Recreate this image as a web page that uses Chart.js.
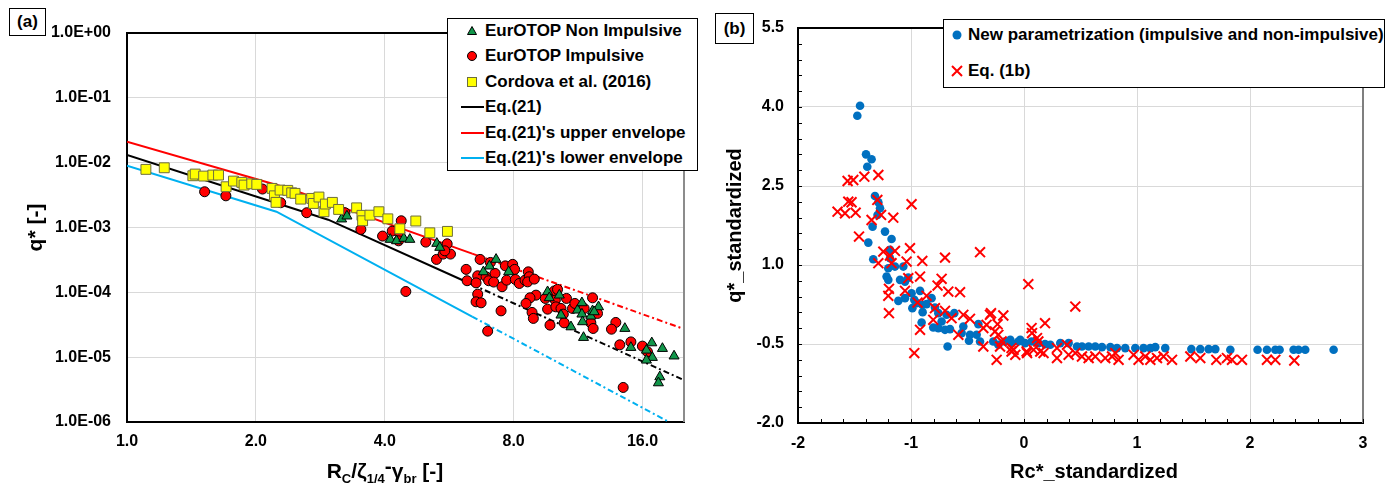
<!DOCTYPE html>
<html>
<head>
<meta charset="utf-8">
<script src="https://cdn.jsdelivr.net/npm/chart.js@4.4.1/dist/chart.umd.min.js"></script>
<style>
body{margin:0;background:#fff;width:1394px;height:488px;position:relative;overflow:hidden;
  font-family:Arial,'Liberation Sans',sans-serif;font-weight:bold;color:#000}
canvas{position:absolute;top:0}
.tag{position:absolute;border:1.5px solid #000;box-sizing:border-box;font-size:17px;
  display:flex;align-items:center;justify-content:center;background:#fff}
.legend{position:absolute;border:1px solid #000;background:#fff;box-sizing:border-box;font-size:17px}
.row{position:absolute;height:20px;display:flex;align-items:center;white-space:nowrap}
.axTitle{position:absolute;line-height:1;white-space:nowrap;transform:translateX(-50%)}
.sb{font-size:13px;position:relative;top:5px}
.sp{position:relative;top:-5px}
</style>
</head>
<body>
<canvas id="chartA" width="700" height="488" style="left:0"></canvas>
<canvas id="chartB" width="694" height="488" style="left:700px"></canvas>

<div class="tag" style="left:9px;top:8px;width:37px;height:28px">(a)</div>
<div class="tag" style="left:715px;top:13px;width:39px;height:31px">(b)</div>

<div class="legend" style="left:447px;top:18px;width:251px;height:153px">
  <div class="row" style="left:12px;top:2px"><svg width="24" height="20"><polygon points="12,5.5 16.5,13.5 7.5,13.5" fill="#11964a" stroke="#000"/></svg><span style="margin-left:1px">EurOTOP Non Impulsive</span></div>
  <div class="row" style="left:12px;top:27px"><svg width="24" height="20"><circle cx="12" cy="10" r="4.5" fill="#ff0000" stroke="#000"/></svg><span style="margin-left:1px">EurOTOP Impulsive</span></div>
  <div class="row" style="left:12px;top:52.7px"><svg width="24" height="20"><rect x="7.5" y="5.5" width="9" height="9" fill="#ffff00" stroke="#6e6e3c"/></svg><span style="margin-left:1px">Cordova et al. (2016)</span></div>
  <div class="row" style="left:12px;top:78.3px"><svg width="24" height="20"><line x1="1" y1="10" x2="24" y2="10" stroke="#000" stroke-width="2"/></svg><span style="margin-left:1px">Eq.(21)</span></div>
  <div class="row" style="left:12px;top:103.7px"><svg width="24" height="20"><line x1="1" y1="10" x2="24" y2="10" stroke="#ff0000" stroke-width="2"/></svg><span style="margin-left:1px">Eq.(21)'s upper envelope</span></div>
  <div class="row" style="left:12px;top:128.7px"><svg width="24" height="20"><line x1="1" y1="10" x2="24" y2="10" stroke="#00b0f0" stroke-width="2"/></svg><span style="margin-left:1px">Eq.(21)'s lower envelope</span></div>
</div>

<div class="legend" style="left:943px;top:19px;width:442px;height:69px">
  <div class="row" style="left:3px;top:5px"><svg width="20" height="20"><circle cx="10" cy="10" r="4.5" fill="#0070c0"/></svg><span style="margin-left:1px">New parametrization (impulsive and non-impulsive)</span></div>
  <div class="row" style="left:3px;top:41px"><svg width="20" height="20"><path d="M5,5 L15,15 M15,5 L5,15" stroke="#ff0000" stroke-width="2"/></svg><span style="margin-left:1px">Eq. (1b)</span></div>
</div>

<div class="axTitle" style="left:385px;top:460px;font-size:21px">R<span class="sb">C</span>/ζ<span class="sb">1/4</span><span class="sp">-</span>γ<span class="sb">br</span> [-]</div>
<div class="axTitle" style="left:1094px;top:461px;font-size:20px">Rc*_standardized</div>

<script>
// ---------- panel (a) data ----------
const xTicksA = [1, 2, 4, 8, 16];
const yTicksA = [1e-6, 1e-5, 1e-4, 1e-3, 1e-2, 1e-1, 1];

// EurOTOP non impulsive (triangles)
const nonImpX = [3.172,3.264,4.120,4.262,4.432,4.577,5.292,5.377,6.799,7.022,
  7.279,7.788,9.603,9.691,10.23,10.32,10.89,11.28,11.55,11.55,
  11.59,11.65,12.12,12.23,12.63,14.55,15.03,16.34,16.82,16.87,
  16.34,17.81,18.96,17.56,17.43,12.34];
const nonImpQ = [1.35e-3,1.50e-3,6.55e-4,6.23e-4,6.79e-4,6.55e-4,5.68e-4,4.93e-4,2.07e-4,2.54e-4,
  3.22e-4,2.07e-4,1.02e-4,8.23e-5,9.05e-5,4.45e-5,2.93e-5,5.31e-5,6.89e-5,4.61e-5,
  3.51e-5,2.01e-5,4.29e-5,5.18e-5,5.97e-5,2.77e-5,1.41e-5,1.28e-5,1.66e-5,9.89e-6,
  8.99e-6,1.36e-5,1.04e-5,4.97e-6,4.01e-6,5.00e-5];

// EurOTOP impulsive (circles)
const impX = [1.518,1.702,2.072,2.286,2.629,3.229,3.518,3.953,4.164,4.371,
  4.338,4.308,4.988,5.283,5.476,5.595,5.696,5.524,4.480,6.680,
  6.196,7.060,6.594,6.229,6.537,6.898,6.995,7.239,7.185,7.517,
  7.651,7.705,7.958,8.043,8.073,8.248,8.504,8.657,8.703,8.625,
  8.941,6.594,6.537,6.716,7.477,6.958,9.023,8.736,8.550,8.833,
  8.895,9.728,9.485,9.603,9.864,9.954,10.13,10.01,10.04,10.32,
  10.45,10.50,10.63,10.98,11.12,11.69,12.12,12.27,12.23,12.56,
  13.86,13.54,14.16,15.03,15.99,16.43,14.42];
const impQ = [3.56e-3,3.08e-3,3.92e-3,2.41e-3,1.69e-3,1.69e-3,9.35e-4,7.37e-4,8.80e-4,1.27e-3,
  8.28e-4,6.23e-4,5.95e-4,3.22e-4,3.89e-4,5.60e-4,3.89e-4,4.37e-4,1.03e-4,3.22e-4,
  2.26e-4,2.89e-4,1.80e-4,1.51e-4,1.40e-4,1.74e-4,1.51e-4,1.96e-4,1.44e-4,1.22e-4,
  2.56e-4,1.54e-4,2.70e-4,2.26e-4,1.58e-4,1.37e-4,1.54e-4,2.07e-4,1.74e-4,1.45e-4,
  1.60e-4,9.38e-5,7.14e-5,6.89e-5,5.18e-5,2.52e-5,9.05e-5,8.23e-5,6.74e-5,4.90e-5,
  3.96e-5,3.12e-5,8.05e-5,5.50e-5,9.61e-5,1.05e-4,1.11e-4,7.58e-5,5.97e-5,5.64e-5,
  4.61e-5,3.38e-5,8.05e-5,5.64e-5,6.74e-5,5.64e-5,3.38e-5,2.77e-5,8.23e-5,4.73e-5,
  3.43e-5,2.70e-5,1.55e-5,1.72e-5,1.48e-5,1.21e-5,3.41e-6];

// Cordova et al. (2016) (squares)
const cordX = [1.107,1.222,1.425,1.443,1.510,1.587,1.636,1.704,1.773,1.854,
  1.877,1.956,2.010,2.182,2.210,2.229,2.278,2.374,2.425,2.469,
  2.545,2.700,2.725,2.808,2.885,2.906,3.018,3.121,3.438,3.538,
  3.551,3.693,3.876,4.067,4.338,4.727,5.097,5.604];
const cordQ = [7.88e-3,8.34e-3,6.28e-3,6.67e-3,6.21e-3,6.44e-3,6.44e-3,4.25e-3,5.20e-3,4.97e-3,
  4.51e-3,4.72e-3,4.62e-3,4.01e-3,3.08e-3,2.44e-3,3.78e-3,3.74e-3,3.43e-3,3.36e-3,
  2.74e-3,2.81e-3,2.35e-3,2.95e-3,1.75e-3,2.30e-3,2.44e-3,1.90e-3,2.01e-3,1.54e-3,
  1.27e-3,1.55e-3,1.75e-3,1.36e-3,9.55e-4,1.26e-3,8.28e-4,8.71e-4];

// Eq.(21) and its envelopes (vertices, dash-dot beyond the 3rd point)
const eq21X = [1, 2.95, 6.4, 20];
const eq21Q = [0.0131, 0.00132, 1.32e-4, 4.42e-6];
const upperX = [1, 2.378, 6.4, 20];
const upperQ = [0.0210, 0.00404, 3.96e-4, 2.72e-5];
const lowerX = [1, 2.234, 6.4, 18.45];
const lowerQ = [0.00895, 0.00175, 4.23e-5, 1e-6];

// ---------- panel (b) data ----------
const newParX = [-1.451,-1.475,-1.398,-1.349,-1.387,-1.319,-1.289,-1.274,-1.296,-1.340,
  -1.230,-1.172,-1.378,-1.186,-1.334,-1.186,-1.201,-1.142,-1.068,-1.216,
  -1.201,-1.097,-1.053,-1.024,-1.112,-1.053,-0.995,-0.971,-0.920,-0.950,
  -0.988,-0.900,-0.862,-0.818,-0.897,-0.906,-0.788,-0.758,-0.729,-0.803,
  -0.758,-0.699,-0.655,-0.685,-0.617,-0.676,-0.537,-0.552,-0.478,-0.419,
  -0.404,-0.487,-0.389,-0.272,-0.227,-0.168,-0.110,-0.050,0.009,0.067,
  0.127,0.186,-0.121,-0.033,0.233,0.321,0.395,0.469,0.513,0.572,
  0.631,0.690,0.764,0.823,0.896,0.985,1.058,1.118,1.162,1.250,
  1.481,1.560,1.634,1.693,1.826,2.067,2.150,2.224,2.262,2.386,
  2.430,2.489,2.740];
const newParY = [4.023,3.833,3.101,3.007,2.866,2.311,2.191,2.077,1.950,1.728,
  1.634,1.495,1.425,1.287,1.110,1.129,0.939,0.970,0.970,0.780,
  0.718,0.718,0.685,0.761,0.319,0.371,0.465,0.338,0.509,0.276,
  0.181,0.244,0.257,0.371,0.105,-0.092,0.192,0.086,-0.073,-0.187,
  -0.198,-0.231,-0.217,0.054,0.086,-0.547,-0.168,-0.293,-0.325,-0.325,
  -0.123,-0.439,-0.452,-0.452,-0.515,-0.452,-0.483,-0.452,-0.483,-0.452,
  -0.483,-0.502,-0.420,-0.420,-0.515,-0.483,-0.483,-0.547,-0.547,-0.547,
  -0.547,-0.559,-0.559,-0.578,-0.578,-0.578,-0.578,-0.578,-0.559,-0.578,
  -0.597,-0.597,-0.597,-0.597,-0.610,-0.610,-0.610,-0.610,-0.610,-0.610,
  -0.610,-0.610,-0.610];

const eq1bX = [-1.561,-1.511,-1.413,-1.289,-1.555,-1.526,-1.650,-1.584,-1.490,-1.460,
  -1.298,-1.349,-1.265,-1.157,-0.995,-1.245,-1.142,-1.186,-1.289,-1.172,
  -1.009,-1.039,-0.900,-0.699,-0.389,-0.920,-1.024,-0.729,-0.765,-1.195,
  -1.201,-1.053,-0.670,-0.566,-0.942,-0.862,-1.195,-0.920,-0.788,-0.699,
  -0.803,-0.641,-0.537,-0.478,-0.581,-0.971,-0.360,-0.331,-0.292,-0.234,
  -0.183,-0.227,-0.212,-0.242,-0.110,0.038,0.067,0.127,0.186,0.115,
  0.454,-0.092,-0.077,0.027,0.085,0.144,0.173,0.292,0.381,0.292,
  0.395,0.454,0.513,0.572,0.631,0.719,0.779,0.808,0.837,0.970,
  1.014,1.073,1.118,1.177,1.235,1.310,1.472,1.560,1.702,1.796,
  1.841,1.929,2.150,2.224,2.392,0.071,-0.360,-0.301,-0.257,-0.198,
  -0.110,0.023];
const eq1bY = [2.595,2.614,2.677,2.709,2.203,2.191,2.013,1.983,1.994,1.539,
  2.235,1.855,1.950,1.899,2.153,1.254,1.268,1.178,1.034,1.034,
  1.319,1.065,1.078,1.140,1.243,0.780,0.750,0.737,0.610,0.547,
  0.414,0.509,0.496,0.484,0.287,0.414,0.086,-0.231,0.181,0.130,
  -0.041,-0.009,0.054,-0.022,-0.325,-0.672,-0.547,-0.136,0.086,-0.123,
  0.041,-0.325,-0.547,-0.800,-0.642,0.636,-0.198,-0.452,-0.104,-0.388,
  0.211,-0.610,-0.705,-0.672,-0.610,-0.642,-0.672,-0.578,-0.515,-0.767,
  -0.705,-0.672,-0.737,-0.767,-0.737,-0.767,-0.737,-0.672,-0.800,-0.705,
  -0.800,-0.737,-0.800,-0.767,-0.737,-0.800,-0.737,-0.767,-0.800,-0.767,
  -0.800,-0.800,-0.800,-0.800,-0.813,-0.293,-0.198,0.054,-0.263,-0.452,
  -0.578,-0.642];

// ---------- helpers ----------
const pts = (xs, ys) => xs.map((x, i) => ({x: x, y: ys[i]}));
const FONT = "Arial, 'Liberation Sans', sans-serif";
const tickFont = {family: FONT, size: 16, weight: 'bold'};
const dashAfter = ctx => ctx.p0DataIndex >= 2 ? [6, 3, 2, 3] : undefined;

const sciLabel = v => {
  const e = Math.round(Math.log10(v));
  return '1.0E' + (e < 0 ? '-' : '+') + String(Math.abs(e)).padStart(2, '0');
};

// top and right edge of the plot area
const frame = {
  id: 'frame',
  afterDraw(chart, args, opts) {
    const {ctx, chartArea: a} = chart;
    ctx.save();
    ctx.lineWidth = 2;
    ctx.strokeStyle = '#000';
    ctx.beginPath(); ctx.moveTo(a.left, a.top); ctx.lineTo(a.right, a.top); ctx.stroke();
    ctx.strokeStyle = opts.right || '#8c8c8c';
    ctx.beginPath(); ctx.moveTo(a.right, a.top); ctx.lineTo(a.right, a.bottom); ctx.stroke();
    ctx.restore();
  }
};

// small tick marks pointing inward (panel b)
const innerTicks = {
  id: 'innerTicks',
  afterDraw(chart) {
    const {ctx, chartArea: a, scales} = chart;
    ctx.save();
    ctx.strokeStyle = '#000';
    ctx.lineWidth = 1;
    ctx.beginPath();
    scales.x.ticks.forEach(t => {
      const p = Math.round(scales.x.getPixelForValue(t.value)) + 0.5;
      ctx.moveTo(p, a.bottom); ctx.lineTo(p, a.bottom - 4);
    });
    scales.y.ticks.forEach(t => {
      const p = Math.round(scales.y.getPixelForValue(t.value)) + 0.5;
      ctx.moveTo(a.left, p); ctx.lineTo(a.left + 4, p);
    });
    ctx.stroke();
    ctx.restore();
  }
};

// ---------- chart (a) ----------
new Chart(document.getElementById('chartA'), {
  type: 'scatter',
  data: {
    datasets: [
      {label: 'EurOTOP Non Impulsive', data: pts(nonImpX, nonImpQ), pointStyle: 'triangle', pointRadius: 5.8,
        backgroundColor: '#11964a', borderColor: '#000', borderWidth: 1, order: 2},
      {label: 'EurOTOP Impulsive', data: pts(impX, impQ), pointStyle: 'circle', pointRadius: 5,
        backgroundColor: '#ff0000', borderColor: '#000', borderWidth: 1, order: 3},
      {label: 'Cordova et al. (2016)', data: pts(cordX, cordQ), pointStyle: 'rect', pointRadius: 7,
        backgroundColor: '#ffff00', borderColor: '#6e6e3c', borderWidth: 1, order: 1},
      {type: 'line', label: 'Eq.(21)', data: pts(eq21X, eq21Q), borderColor: '#000', borderWidth: 2,
        pointRadius: 0, fill: false, tension: 0, segment: {borderDash: dashAfter}, order: 4},
      {type: 'line', label: "Eq.(21)'s upper envelope", data: pts(upperX, upperQ), borderColor: '#ff0000', borderWidth: 2,
        pointRadius: 0, fill: false, tension: 0, segment: {borderDash: dashAfter}, order: 5},
      {type: 'line', label: "Eq.(21)'s lower envelope", data: pts(lowerX, lowerQ), borderColor: '#00b0f0', borderWidth: 2,
        pointRadius: 0, fill: false, tension: 0, segment: {borderDash: dashAfter}, order: 6}
    ]
  },
  options: {
    responsive: false,
    animation: false,
    layout: {padding: {top: 33, right: 16, left: 0, bottom: 0}},
    plugins: {legend: {display: false}, tooltip: {enabled: false}, frame: {right: '#8c8c8c'}},
    scales: {
      x: {
        type: 'logarithmic', min: 1, max: 20,
        afterBuildTicks: s => { s.ticks = xTicksA.map(v => ({value: v})); },
        afterFit: s => { s.height = 66; },
        ticks: {callback: v => Number(v).toFixed(1), font: tickFont, color: '#000', padding: 10, maxRotation: 0, autoSkip: false},
        grid: {color: '#d9d9d9', drawTicks: false},
        border: {color: '#000', width: 2}
      },
      y: {
        type: 'logarithmic', min: 1e-6, max: 1,
        afterBuildTicks: s => { s.ticks = yTicksA.map(v => ({value: v})); },
        afterFit: s => { s.width = 127; },
        ticks: {callback: v => sciLabel(v), font: tickFont, color: '#000', padding: 16, autoSkip: false},
        grid: {color: '#d9d9d9', drawTicks: false},
        border: {color: '#000', width: 2},
        title: {display: true, text: 'q* [-]', color: '#000', font: {family: FONT, size: 21, weight: 'bold'}, padding: {top: 24, bottom: 0}}
      }
    }
  },
  plugins: [frame]
});

// ---------- chart (b) ----------
const isMajorX = v => Math.abs(v - Math.round(v)) < 1e-6;
const isMajorY = v => { const k = (v + 2) / 1.5; return Math.abs(k - Math.round(k)) < 1e-6; };

new Chart(document.getElementById('chartB'), {
  type: 'scatter',
  data: {
    datasets: [
      {label: 'Eq. (1b)', data: pts(eq1bX, eq1bY), pointStyle: 'crossRot', pointRadius: 7,
        borderColor: '#ff0000', backgroundColor: '#ff0000', borderWidth: 2, order: 1},
      {label: 'New parametrization (impulsive and non-impulsive)', data: pts(newParX, newParY), pointStyle: 'circle',
        pointRadius: 4.3, backgroundColor: '#0070c0', borderColor: '#0070c0', borderWidth: 0, order: 2}
    ]
  },
  options: {
    responsive: false,
    animation: false,
    layout: {padding: {top: 28, right: 31, left: 0, bottom: 0}},
    plugins: {legend: {display: false}, tooltip: {enabled: false}, frame: {right: '#7f7f7f'}},
    scales: {
      x: {
        type: 'linear', min: -2, max: 3,
        afterFit: s => { s.height = 65; },
        ticks: {stepSize: 0.2, autoSkip: false, maxRotation: 0, font: tickFont, color: '#000', padding: 11,
          callback: v => isMajorX(v) ? String(Math.round(v)) : ''},
        grid: {color: c => isMajorX(c.tick.value) ? '#d9d9d9' : 'rgba(0,0,0,0)', drawTicks: false},
        border: {color: '#000', width: 2}
      },
      y: {
        type: 'linear', min: -2, max: 5.5,
        afterFit: s => { s.width = 98; },
        ticks: {stepSize: 0.3, autoSkip: false, font: tickFont, color: '#000', padding: 14,
          callback: v => isMajorY(v) ? Number(v).toFixed(1) : ''},
        grid: {color: c => isMajorY(c.tick.value) ? '#d9d9d9' : 'rgba(0,0,0,0)', drawTicks: false},
        border: {color: '#000', width: 2},
        title: {display: true, text: 'q*_standardized', color: '#000', font: {family: FONT, size: 20, weight: 'bold'}, padding: {top: 23, bottom: 0}}
      }
    }
  },
  plugins: [frame, innerTicks]
});
</script>
</body>
</html>
